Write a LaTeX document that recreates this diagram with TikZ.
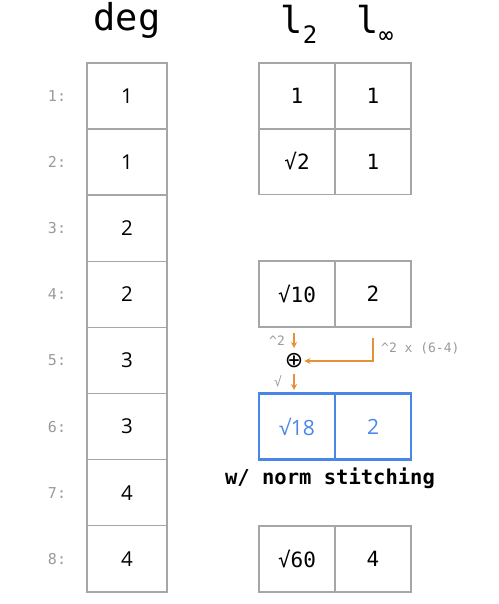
\documentclass[tikz,border=0pt]{standalone}
\usepackage{fontspec}
\setmainfont{Open Sans}
\setmonofont{DejaVu Sans Mono}
\newfontfamily\symfont{DejaVu Sans}
\usetikzlibrary{arrows.meta}
\definecolor{gridgray}{HTML}{A6A6A6}
\definecolor{lblgray}{HTML}{9A9A9A}
\definecolor{bblue}{HTML}{4A86E8}
\definecolor{oorange}{HTML}{E69138}
\tikzset{
  degcell/.style={draw=gridgray, line width=1.5pt, minimum width=80pt, minimum height=66.1pt, inner sep=0pt, font=\fontsize{20.5}{22}\selectfont},
  ncell/.style={draw=gridgray, line width=1.5pt, minimum width=76pt, minimum height=66pt, inner sep=0pt, font=\ttfamily\fontsize{21}{23}\selectfont},
  bcell/.style={draw=bblue, line width=2.8pt, minimum width=76pt, minimum height=66pt, inner sep=0pt, text=bblue, font=\fontsize{21}{23}\selectfont},
  rowlbl/.style={text=lblgray, font=\ttfamily\fontsize{15}{17}\selectfont},
  hdr/.style={font=\ttfamily\fontsize{37}{40}\selectfont},
  oarrow/.style={draw=oorange, line width=1.5pt, -{Stealth[length=6pt,width=6pt]}},
  smalllbl/.style={text=lblgray, font=\ttfamily\fontsize{13}{15}\selectfont, inner sep=0pt},
}
\begin{document}
\begin{tikzpicture}[x=1pt,y=-1pt]
\useasboundingbox (0,0) rectangle (498,604);
% headers
\node[hdr] (hdeg) at (127,20) {deg};
\node[hdr] (hl2) at (299,24) {l\raisebox{-0.5ex}{\fontsize{24}{26}\selectfont 2}};
\node[hdr] (hlinf) at (375,24) {l\raisebox{-0.5ex}{\fontsize{24}{26}\selectfont ∞}};
% deg column
\foreach \i/\v in {1/1,2/1,3/2,4/2,5/3,6/3,7/4,8/4}{
  \node[degcell] (d\i) at (127,{63+66.1*(\i-0.5)}) {\v};
  \node[rowlbl] (l\i) at (57,{63+66.1*(\i-0.5)}) {\i:};
}
% norm cells
\node[ncell] (r1a) at (297,96) {1};
\node[ncell] (r1b) at (373,96) {1};
\node[ncell] (r2a) at (297,161.5) {√2};
\node[ncell] (r2b) at (373,161.5) {1};
\node[ncell] (r4a) at (297,294) {√10};
\node[ncell] (r4b) at (373,294) {2};
\node[bcell] (r6a) at (297,426.5) {√18};
\node[bcell] (r6b) at (373,426.5) {2};
\node[ncell] (r8a) at (297,559) {√60};
\node[ncell] (r8b) at (373,559) {4};
% stitching
\node[font=\symfont\fontsize{22}{24}\selectfont, inner sep=1pt] (plus) at (294,361) {⊕};
\coordinate (s1) at (294,333);
\coordinate (s2) at (373,338);
\coordinate (e3) at (294,390);
\draw[oarrow] (s1) -- (294,348);
\draw[oarrow] (s2) |- (plus.east);
\draw[oarrow] (294,374) -- (e3);
\node[smalllbl] (t1) at (277,341) {\textasciicircum 2};
\node[smalllbl] (t2) at (278,381) {√};
\node[smalllbl, anchor=west] (t3) at (381,348) {\textasciicircum 2 x (6-4)};
\node[font=\ttfamily\bfseries\fontsize{20.5}{23}\selectfont] (cap) at (330,478) {w/ norm stitching};
\end{tikzpicture}
\end{document}
